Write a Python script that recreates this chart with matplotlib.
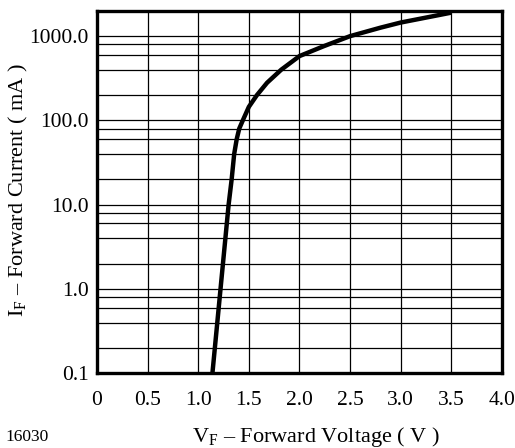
import numpy as np
import matplotlib
matplotlib.use('Agg')
import matplotlib.pyplot as plt
from matplotlib.ticker import FixedLocator, LogLocator, NullFormatter

plt.rcParams['font.family'] = ['Liberation Serif', 'DejaVu Serif']
plt.rcParams['mathtext.fontset'] = 'custom'
plt.rcParams['mathtext.rm'] = 'Liberation Serif'

# forward voltage (V) vs forward current (mA)
vf = [1.14, 1.22, 1.30, 1.33, 1.355, 1.38, 1.405, 1.44, 1.50, 1.58, 1.68, 1.82,
      2.0, 2.24, 2.5, 2.8, 3.0, 3.5]
i_f = [0.1, 1.0, 10, 20, 40, 60, 80, 100, 145, 200, 280, 400,
       580, 760, 1000, 1260, 1450, 1900]

x_ticks = [0, 0.5, 1.0, 1.5, 2.0, 2.5, 3.0, 3.5, 4.0]
x_labels = ['0', '0.5', '1.0', '1.5', '2.0', '2.5', '3.0', '3.5', '4.0']
y_ticks = [0.1, 1.0, 10.0, 100.0, 1000.0]
y_labels = ['0.1', '1.0', '10.0', '100.0', '1000.0']

fig = plt.figure(figsize=(5.15, 4.48), dpi=100)
ax = fig.add_axes([0.1883, 0.1667, 0.7865, 0.8093])

ax.plot(vf, i_f, color='black', lw=3.2, solid_capstyle='butt',
        solid_joinstyle='round', zorder=3)

ax.set_yscale('log')
ax.set_xlim(0, 4.0)
ax.set_ylim(0.1, 2000)

ax.xaxis.set_major_locator(FixedLocator(x_ticks))
ax.set_xticklabels(x_labels)
ax.yaxis.set_major_locator(FixedLocator(y_ticks))
ax.set_yticklabels(y_labels)
ax.yaxis.set_minor_locator(LogLocator(base=10, subs=[2, 4, 6, 8]))
ax.yaxis.set_minor_formatter(NullFormatter())

ax.grid(True, which='major', color='black', lw=0.9)
ax.grid(True, which='minor', axis='y', color='black', lw=0.9)

ax.tick_params(which='both', length=0, labelsize=15.5)
ax.tick_params(axis='x', pad=13)
ax.tick_params(axis='y', pad=6)

for s in ax.spines.values():
    s.set_linewidth(2.4)
    s.set_zorder(4)

# axis titles placed where they sit in the reference
fig.text(0.614, 0.0246, r'V$_{\rm F}$ – Forward Voltage ( V )', fontsize=16,
         ha='center', va='center')
fig.text(0.035, 0.576, r'I$_{\rm F}$ – Forward Current ( mA )', fontsize=16,
         ha='center', va='center', rotation=90)

fig.text(0.01, 0.0246, '16030', fontsize=12.5, va='center')

plt.savefig('out.png', dpi=100)
plt.close()
